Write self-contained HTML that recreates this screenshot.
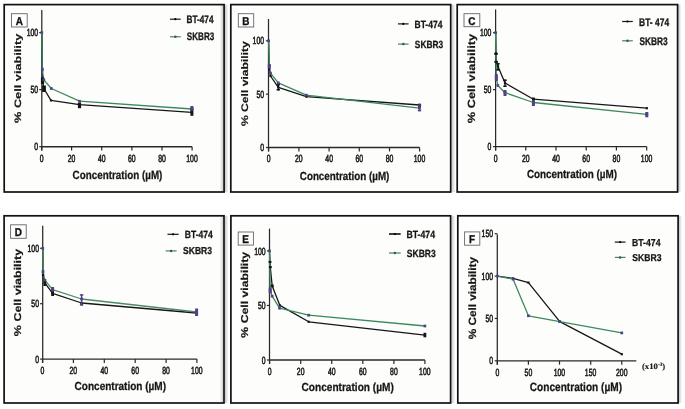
<!DOCTYPE html>
<html><head><meta charset="utf-8"><style>
html,body{margin:0;padding:0;background:#fff;}
svg{display:block;will-change:transform;}
text{text-rendering:geometricPrecision;}
</style></head><body>
<svg width="685" height="409" viewBox="0 0 685 409">
<defs><linearGradient id="shR" x1="0" x2="1" y1="0" y2="0"><stop offset="0" stop-color="#000" stop-opacity="0.22"/><stop offset="1" stop-color="#000" stop-opacity="0"/></linearGradient>
<linearGradient id="shL" x1="0" x2="1" y1="0" y2="0"><stop offset="0" stop-color="#000" stop-opacity="0"/><stop offset="1" stop-color="#000" stop-opacity="0.2"/></linearGradient></defs>
<rect x="0" y="0" width="685" height="409" fill="#ffffff"/>
<rect x="4.20" y="4.60" width="219.90" height="187.40" fill="#fdfdfb"/>
<rect x="230.80" y="4.60" width="219.90" height="187.40" fill="#fdfdfb"/>
<rect x="457.20" y="4.60" width="220.40" height="187.40" fill="#fdfdfb"/>
<rect x="4.10" y="215.80" width="219.90" height="187.20" fill="#fdfdfb"/>
<rect x="230.90" y="215.80" width="219.70" height="187.20" fill="#fdfdfb"/>
<rect x="457.80" y="215.80" width="220.30" height="187.20" fill="#fdfdfb"/>
<rect x="219.80" y="4.60" width="3.60" height="187.40" fill="url(#shL)"/>
<rect x="224.90" y="4.60" width="3.60" height="187.40" fill="url(#shR)"/>
<rect x="4.20" y="4.60" width="219.90" height="187.40" fill="none" stroke="#111" stroke-width="1.7"/>
<rect x="11.50" y="13.70" width="15.70" height="13.30" fill="#fefefe" stroke="#666" stroke-width="0.9"/>
<text transform="translate(15.77,24.70) scale(0.8800,1)" font-size="11.29" font-weight="bold" font-family="'Liberation Sans', sans-serif" fill="#111" stroke="#111" stroke-width="0.341">A</text>
<line x1="41.80" y1="10.00" x2="41.80" y2="150.60" stroke="#2a2a2a" stroke-width="1.25" />
<line x1="41.80" y1="146.70" x2="192.10" y2="146.70" stroke="#2a2a2a" stroke-width="1.35" />
<line x1="39.20" y1="146.70" x2="41.80" y2="146.70" stroke="#2a2a2a" stroke-width="1.2" />
<text transform="translate(34.34,150.30) scale(0.6650,1)" font-size="10.30" font-weight="normal" font-family="'Liberation Sans', sans-serif" fill="#1c1c1c" stroke="#1c1c1c" stroke-width="0.602">0</text>
<line x1="39.20" y1="89.65" x2="41.80" y2="89.65" stroke="#2a2a2a" stroke-width="1.2" />
<text transform="translate(30.53,93.25) scale(0.6650,1)" font-size="10.30" font-weight="normal" font-family="'Liberation Sans', sans-serif" fill="#1c1c1c" stroke="#1c1c1c" stroke-width="0.602">50</text>
<line x1="39.20" y1="32.60" x2="41.80" y2="32.60" stroke="#2a2a2a" stroke-width="1.2" />
<text transform="translate(26.72,36.20) scale(0.6650,1)" font-size="10.30" font-weight="normal" font-family="'Liberation Sans', sans-serif" fill="#1c1c1c" stroke="#1c1c1c" stroke-width="0.602">100</text>
<line x1="41.70" y1="146.70" x2="41.70" y2="150.60" stroke="#2a2a2a" stroke-width="1.2" />
<text transform="translate(39.82,161.61) scale(0.6650,1)" font-size="10.30" font-weight="normal" font-family="'Liberation Sans', sans-serif" fill="#1c1c1c" stroke="#1c1c1c" stroke-width="0.602">0</text>
<line x1="71.60" y1="146.70" x2="71.60" y2="150.60" stroke="#2a2a2a" stroke-width="1.2" />
<text transform="translate(67.74,161.61) scale(0.6650,1)" font-size="10.30" font-weight="normal" font-family="'Liberation Sans', sans-serif" fill="#1c1c1c" stroke="#1c1c1c" stroke-width="0.602">20</text>
<line x1="101.70" y1="146.70" x2="101.70" y2="150.60" stroke="#2a2a2a" stroke-width="1.2" />
<text transform="translate(97.95,161.61) scale(0.6650,1)" font-size="10.30" font-weight="normal" font-family="'Liberation Sans', sans-serif" fill="#1c1c1c" stroke="#1c1c1c" stroke-width="0.602">40</text>
<line x1="131.90" y1="146.70" x2="131.90" y2="150.60" stroke="#2a2a2a" stroke-width="1.2" />
<text transform="translate(128.04,161.61) scale(0.6650,1)" font-size="10.30" font-weight="normal" font-family="'Liberation Sans', sans-serif" fill="#1c1c1c" stroke="#1c1c1c" stroke-width="0.602">60</text>
<line x1="162.00" y1="146.70" x2="162.00" y2="150.60" stroke="#2a2a2a" stroke-width="1.2" />
<text transform="translate(158.18,161.61) scale(0.6650,1)" font-size="10.30" font-weight="normal" font-family="'Liberation Sans', sans-serif" fill="#1c1c1c" stroke="#1c1c1c" stroke-width="0.602">80</text>
<line x1="192.10" y1="146.70" x2="192.10" y2="150.60" stroke="#2a2a2a" stroke-width="1.2" />
<text transform="translate(186.27,161.61) scale(0.6650,1)" font-size="10.30" font-weight="normal" font-family="'Liberation Sans', sans-serif" fill="#1c1c1c" stroke="#1c1c1c" stroke-width="0.602">100</text>
<text transform="translate(20.60,122.95) rotate(-90) scale(1.3719,1)" font-size="9.29" font-weight="bold" font-family="'Liberation Sans', sans-serif" fill="#161616" stroke="#161616" stroke-width="0.160">% Cell viability</text>
<text transform="translate(72.61,178.70) scale(0.8287,1)" font-size="11.86" font-weight="bold" font-family="'Liberation Sans', sans-serif" fill="#161616" stroke="#161616" stroke-width="0.265">Concentration (µM)</text>
<line x1="170.00" y1="19.20" x2="180.70" y2="19.20" stroke="#161616" stroke-width="1.2" />
<circle cx="175.35" cy="19.20" r="1.1" fill="#000"/>
<text transform="translate(186.51,22.70) scale(0.7573,1)" font-size="10.86" font-weight="bold" font-family="'Liberation Sans', sans-serif" fill="#161616" stroke="#161616" stroke-width="0.291">BT-474</text>
<line x1="170.00" y1="36.75" x2="180.70" y2="36.75" stroke="#3b8a5e" stroke-width="1.2" />
<circle cx="175.35" cy="36.75" r="1.25" fill="#514287"/>
<text transform="translate(186.84,39.80) scale(0.7460,1)" font-size="10.86" font-weight="bold" font-family="'Liberation Sans', sans-serif" fill="#161616" stroke="#161616" stroke-width="0.295">SKBR3</text>
<polyline points="41.80,32.60 42.50,80.00 43.80,88.50 51.00,100.40 79.50,104.70 191.90,112.40" fill="none" stroke="#161616" stroke-width="1.3" stroke-linejoin="round" stroke-linecap="round"/>
<polyline points="41.80,32.60 42.30,69.50 43.80,79.80 51.30,88.50 79.50,101.20 191.90,109.00" fill="none" stroke="#3b8a5e" stroke-width="1.3" stroke-linejoin="round" stroke-linecap="round"/>
<rect x="40.90" y="77.50" width="3.2" height="6.50" fill="#161616"/>
<rect x="42.10" y="85.50" width="3.8" height="6.50" fill="#161616"/>
<rect x="77.90" y="102.50" width="3.2" height="5.70" fill="#161616"/>
<rect x="190.40" y="107.80" width="3.0" height="8.00" fill="#161616"/>
<rect x="41.40" y="78.90" width="2.2" height="2.2" fill="#161616"/>
<rect x="42.70" y="87.40" width="2.2" height="2.2" fill="#161616"/>
<rect x="49.90" y="99.30" width="2.2" height="2.2" fill="#161616"/>
<rect x="78.40" y="103.60" width="2.2" height="2.2" fill="#161616"/>
<rect x="190.80" y="111.30" width="2.2" height="2.2" fill="#161616"/>
<rect x="41.20" y="67.50" width="2.2" height="4.00" fill="#514287"/>
<rect x="190.40" y="106.00" width="3.0" height="4.50" fill="#514287"/>
<rect x="40.45" y="31.25" width="2.7" height="2.7" fill="#514287"/>
<rect x="40.95" y="68.15" width="2.7" height="2.7" fill="#514287"/>
<rect x="42.45" y="78.45" width="2.7" height="2.7" fill="#514287"/>
<rect x="49.95" y="87.15" width="2.7" height="2.7" fill="#514287"/>
<rect x="78.15" y="99.85" width="2.7" height="2.7" fill="#514287"/>
<rect x="190.55" y="107.65" width="2.7" height="2.7" fill="#514287"/>
<rect x="451.50" y="4.60" width="4.00" height="187.40" fill="url(#shR)"/>
<rect x="230.80" y="4.60" width="219.90" height="187.40" fill="none" stroke="#111" stroke-width="1.7"/>
<rect x="238.30" y="13.70" width="15.40" height="13.30" fill="#fefefe" stroke="#666" stroke-width="0.9"/>
<text transform="translate(242.33,24.70) scale(0.8800,1)" font-size="11.29" font-weight="bold" font-family="'Liberation Sans', sans-serif" fill="#111" stroke="#111" stroke-width="0.341">B</text>
<line x1="268.50" y1="19.00" x2="268.50" y2="151.40" stroke="#2a2a2a" stroke-width="1.25" />
<line x1="268.50" y1="147.50" x2="419.60" y2="147.50" stroke="#2a2a2a" stroke-width="1.35" />
<line x1="265.90" y1="147.50" x2="268.50" y2="147.50" stroke="#2a2a2a" stroke-width="1.2" />
<text transform="translate(260.24,151.10) scale(0.6650,1)" font-size="10.30" font-weight="normal" font-family="'Liberation Sans', sans-serif" fill="#1c1c1c" stroke="#1c1c1c" stroke-width="0.602">0</text>
<line x1="265.90" y1="94.15" x2="268.50" y2="94.15" stroke="#2a2a2a" stroke-width="1.2" />
<text transform="translate(256.43,97.76) scale(0.6650,1)" font-size="10.30" font-weight="normal" font-family="'Liberation Sans', sans-serif" fill="#1c1c1c" stroke="#1c1c1c" stroke-width="0.602">50</text>
<line x1="265.90" y1="40.80" x2="268.50" y2="40.80" stroke="#2a2a2a" stroke-width="1.2" />
<text transform="translate(252.62,44.41) scale(0.6650,1)" font-size="10.30" font-weight="normal" font-family="'Liberation Sans', sans-serif" fill="#1c1c1c" stroke="#1c1c1c" stroke-width="0.602">100</text>
<line x1="268.60" y1="147.50" x2="268.60" y2="151.40" stroke="#2a2a2a" stroke-width="1.2" />
<text transform="translate(266.72,162.41) scale(0.6650,1)" font-size="10.30" font-weight="normal" font-family="'Liberation Sans', sans-serif" fill="#1c1c1c" stroke="#1c1c1c" stroke-width="0.602">0</text>
<line x1="298.90" y1="147.50" x2="298.90" y2="151.40" stroke="#2a2a2a" stroke-width="1.2" />
<text transform="translate(295.04,162.41) scale(0.6650,1)" font-size="10.30" font-weight="normal" font-family="'Liberation Sans', sans-serif" fill="#1c1c1c" stroke="#1c1c1c" stroke-width="0.602">20</text>
<line x1="329.10" y1="147.50" x2="329.10" y2="151.40" stroke="#2a2a2a" stroke-width="1.2" />
<text transform="translate(325.35,162.41) scale(0.6650,1)" font-size="10.30" font-weight="normal" font-family="'Liberation Sans', sans-serif" fill="#1c1c1c" stroke="#1c1c1c" stroke-width="0.602">40</text>
<line x1="359.30" y1="147.50" x2="359.30" y2="151.40" stroke="#2a2a2a" stroke-width="1.2" />
<text transform="translate(355.44,162.41) scale(0.6650,1)" font-size="10.30" font-weight="normal" font-family="'Liberation Sans', sans-serif" fill="#1c1c1c" stroke="#1c1c1c" stroke-width="0.602">60</text>
<line x1="389.50" y1="147.50" x2="389.50" y2="151.40" stroke="#2a2a2a" stroke-width="1.2" />
<text transform="translate(385.68,162.41) scale(0.6650,1)" font-size="10.30" font-weight="normal" font-family="'Liberation Sans', sans-serif" fill="#1c1c1c" stroke="#1c1c1c" stroke-width="0.602">80</text>
<line x1="419.60" y1="147.50" x2="419.60" y2="151.40" stroke="#2a2a2a" stroke-width="1.2" />
<text transform="translate(413.77,162.41) scale(0.6650,1)" font-size="10.30" font-weight="normal" font-family="'Liberation Sans', sans-serif" fill="#1c1c1c" stroke="#1c1c1c" stroke-width="0.602">100</text>
<text transform="translate(247.50,126.04) rotate(-90) scale(1.2667,1)" font-size="9.57" font-weight="bold" font-family="'Liberation Sans', sans-serif" fill="#161616" stroke="#161616" stroke-width="0.174">% Cell viability</text>
<text transform="translate(299.81,179.60) scale(0.8378,1)" font-size="11.71" font-weight="bold" font-family="'Liberation Sans', sans-serif" fill="#161616" stroke="#161616" stroke-width="0.263">Concentration (µM)</text>
<line x1="398.00" y1="23.90" x2="408.60" y2="23.90" stroke="#161616" stroke-width="1.2" />
<circle cx="403.30" cy="23.90" r="1.1" fill="#000"/>
<text transform="translate(414.49,27.60) scale(0.8152,1)" font-size="10.43" font-weight="bold" font-family="'Liberation Sans', sans-serif" fill="#161616" stroke="#161616" stroke-width="0.270">BT-474</text>
<line x1="398.00" y1="44.10" x2="408.60" y2="44.10" stroke="#3b8a5e" stroke-width="1.2" />
<circle cx="403.30" cy="44.10" r="1.25" fill="#514287"/>
<text transform="translate(414.83,47.50) scale(0.7997,1)" font-size="10.43" font-weight="bold" font-family="'Liberation Sans', sans-serif" fill="#161616" stroke="#161616" stroke-width="0.275">SKBR3</text>
<polyline points="268.60,40.80 269.20,69.20 270.50,76.00 278.30,87.30 306.40,96.70 419.50,105.00" fill="none" stroke="#161616" stroke-width="1.3" stroke-linejoin="round" stroke-linecap="round"/>
<polyline points="268.60,40.80 269.30,66.30 270.50,73.10 278.30,82.90 306.40,95.20 419.50,108.10" fill="none" stroke="#3b8a5e" stroke-width="1.3" stroke-linejoin="round" stroke-linecap="round"/>
<rect x="277.60" y="84.00" width="1.4" height="6.50" fill="#161616"/>
<rect x="276.60" y="84.00" width="3.4" height="1.5" fill="#161616"/>
<rect x="276.60" y="89.00" width="3.4" height="1.5" fill="#161616"/>
<rect x="418.10" y="103.70" width="2.8" height="3.30" fill="#161616"/>
<rect x="268.10" y="68.10" width="2.2" height="2.2" fill="#161616"/>
<rect x="269.40" y="74.90" width="2.2" height="2.2" fill="#161616"/>
<rect x="277.20" y="86.20" width="2.2" height="2.2" fill="#161616"/>
<rect x="305.30" y="95.60" width="2.2" height="2.2" fill="#161616"/>
<rect x="418.40" y="103.90" width="2.2" height="2.2" fill="#161616"/>
<rect x="267.80" y="64.00" width="3.0" height="4.50" fill="#514287"/>
<rect x="418.80" y="104.50" width="1.4" height="6.80" fill="#514287"/>
<rect x="417.80" y="104.50" width="3.4" height="1.5" fill="#514287"/>
<rect x="417.80" y="109.80" width="3.4" height="1.5" fill="#514287"/>
<rect x="267.25" y="39.45" width="2.7" height="2.7" fill="#514287"/>
<rect x="267.95" y="64.95" width="2.7" height="2.7" fill="#514287"/>
<rect x="269.15" y="71.75" width="2.7" height="2.7" fill="#514287"/>
<rect x="276.95" y="81.55" width="2.7" height="2.7" fill="#514287"/>
<rect x="305.05" y="93.85" width="2.7" height="2.7" fill="#514287"/>
<rect x="418.15" y="106.75" width="2.7" height="2.7" fill="#514287"/>
<rect x="678.40" y="4.60" width="3.10" height="187.40" fill="url(#shR)"/>
<rect x="457.20" y="4.60" width="220.40" height="187.40" fill="none" stroke="#111" stroke-width="1.7"/>
<rect x="464.00" y="13.70" width="15.80" height="13.00" fill="#fefefe" stroke="#666" stroke-width="0.9"/>
<text transform="translate(468.23,24.55) scale(0.8800,1)" font-size="11.29" font-weight="bold" font-family="'Liberation Sans', sans-serif" fill="#111" stroke="#111" stroke-width="0.341">C</text>
<line x1="495.60" y1="9.40" x2="495.60" y2="150.50" stroke="#2a2a2a" stroke-width="1.25" />
<line x1="495.60" y1="146.60" x2="646.70" y2="146.60" stroke="#2a2a2a" stroke-width="1.35" />
<line x1="493.00" y1="146.60" x2="495.60" y2="146.60" stroke="#2a2a2a" stroke-width="1.2" />
<text transform="translate(487.54,150.20) scale(0.6650,1)" font-size="10.30" font-weight="normal" font-family="'Liberation Sans', sans-serif" fill="#1c1c1c" stroke="#1c1c1c" stroke-width="0.602">0</text>
<line x1="493.00" y1="89.65" x2="495.60" y2="89.65" stroke="#2a2a2a" stroke-width="1.2" />
<text transform="translate(483.73,93.25) scale(0.6650,1)" font-size="10.30" font-weight="normal" font-family="'Liberation Sans', sans-serif" fill="#1c1c1c" stroke="#1c1c1c" stroke-width="0.602">50</text>
<line x1="493.00" y1="32.70" x2="495.60" y2="32.70" stroke="#2a2a2a" stroke-width="1.2" />
<text transform="translate(479.92,36.30) scale(0.6650,1)" font-size="10.30" font-weight="normal" font-family="'Liberation Sans', sans-serif" fill="#1c1c1c" stroke="#1c1c1c" stroke-width="0.602">100</text>
<line x1="495.60" y1="146.60" x2="495.60" y2="150.50" stroke="#2a2a2a" stroke-width="1.2" />
<text transform="translate(493.72,161.51) scale(0.6650,1)" font-size="10.30" font-weight="normal" font-family="'Liberation Sans', sans-serif" fill="#1c1c1c" stroke="#1c1c1c" stroke-width="0.602">0</text>
<line x1="525.80" y1="146.60" x2="525.80" y2="150.50" stroke="#2a2a2a" stroke-width="1.2" />
<text transform="translate(521.94,161.51) scale(0.6650,1)" font-size="10.30" font-weight="normal" font-family="'Liberation Sans', sans-serif" fill="#1c1c1c" stroke="#1c1c1c" stroke-width="0.602">20</text>
<line x1="556.00" y1="146.60" x2="556.00" y2="150.50" stroke="#2a2a2a" stroke-width="1.2" />
<text transform="translate(552.25,161.51) scale(0.6650,1)" font-size="10.30" font-weight="normal" font-family="'Liberation Sans', sans-serif" fill="#1c1c1c" stroke="#1c1c1c" stroke-width="0.602">40</text>
<line x1="586.20" y1="146.60" x2="586.20" y2="150.50" stroke="#2a2a2a" stroke-width="1.2" />
<text transform="translate(582.34,161.51) scale(0.6650,1)" font-size="10.30" font-weight="normal" font-family="'Liberation Sans', sans-serif" fill="#1c1c1c" stroke="#1c1c1c" stroke-width="0.602">60</text>
<line x1="616.40" y1="146.60" x2="616.40" y2="150.50" stroke="#2a2a2a" stroke-width="1.2" />
<text transform="translate(612.58,161.51) scale(0.6650,1)" font-size="10.30" font-weight="normal" font-family="'Liberation Sans', sans-serif" fill="#1c1c1c" stroke="#1c1c1c" stroke-width="0.602">80</text>
<line x1="646.70" y1="146.60" x2="646.70" y2="150.50" stroke="#2a2a2a" stroke-width="1.2" />
<text transform="translate(640.87,161.51) scale(0.6650,1)" font-size="10.30" font-weight="normal" font-family="'Liberation Sans', sans-serif" fill="#1c1c1c" stroke="#1c1c1c" stroke-width="0.602">100</text>
<text transform="translate(474.50,123.15) rotate(-90) scale(1.2216,1)" font-size="10.43" font-weight="bold" font-family="'Liberation Sans', sans-serif" fill="#161616" stroke="#161616" stroke-width="0.180">% Cell viability</text>
<text transform="translate(526.91,178.40) scale(0.8425,1)" font-size="11.71" font-weight="bold" font-family="'Liberation Sans', sans-serif" fill="#161616" stroke="#161616" stroke-width="0.261">Concentration (µM)</text>
<line x1="622.10" y1="21.50" x2="632.80" y2="21.50" stroke="#161616" stroke-width="1.2" />
<circle cx="627.45" cy="21.50" r="1.1" fill="#000"/>
<text transform="translate(639.09,25.50) scale(0.7660,1)" font-size="11.00" font-weight="bold" font-family="'Liberation Sans', sans-serif" fill="#161616" stroke="#161616" stroke-width="0.287">BT- 474</text>
<line x1="622.10" y1="40.80" x2="632.80" y2="40.80" stroke="#3b8a5e" stroke-width="1.2" />
<circle cx="627.45" cy="40.80" r="1.25" fill="#514287"/>
<text transform="translate(639.43,44.70) scale(0.7554,1)" font-size="11.00" font-weight="bold" font-family="'Liberation Sans', sans-serif" fill="#161616" stroke="#161616" stroke-width="0.291">SKBR3</text>
<polyline points="495.60,32.70 496.00,53.70 496.20,61.80 498.00,66.50 505.00,83.00 533.40,99.20 646.80,108.20" fill="none" stroke="#161616" stroke-width="1.3" stroke-linejoin="round" stroke-linecap="round"/>
<polyline points="495.60,32.70 496.30,77.30 497.80,85.50 505.00,92.70 533.40,102.50 646.80,114.40" fill="none" stroke="#3b8a5e" stroke-width="1.3" stroke-linejoin="round" stroke-linecap="round"/>
<rect x="495.30" y="52.80" width="1.4" height="1.80" fill="#161616"/>
<rect x="494.30" y="52.80" width="3.4" height="1.5" fill="#161616"/>
<rect x="494.30" y="53.10" width="3.4" height="1.5" fill="#161616"/>
<rect x="495.50" y="61.00" width="1.4" height="1.60" fill="#161616"/>
<rect x="494.50" y="61.00" width="3.4" height="1.5" fill="#161616"/>
<rect x="494.50" y="61.10" width="3.4" height="1.5" fill="#161616"/>
<rect x="497.30" y="63.00" width="1.4" height="7.50" fill="#161616"/>
<rect x="496.30" y="63.00" width="3.4" height="1.5" fill="#161616"/>
<rect x="496.30" y="69.00" width="3.4" height="1.5" fill="#161616"/>
<rect x="504.30" y="79.50" width="1.4" height="7.50" fill="#161616"/>
<rect x="503.30" y="79.50" width="3.4" height="1.5" fill="#161616"/>
<rect x="503.30" y="85.50" width="3.4" height="1.5" fill="#161616"/>
<rect x="532.00" y="97.50" width="2.8" height="3.50" fill="#161616"/>
<rect x="494.90" y="52.60" width="2.2" height="2.2" fill="#161616"/>
<rect x="495.10" y="60.70" width="2.2" height="2.2" fill="#161616"/>
<rect x="496.90" y="65.40" width="2.2" height="2.2" fill="#161616"/>
<rect x="503.90" y="81.90" width="2.2" height="2.2" fill="#161616"/>
<rect x="532.30" y="98.10" width="2.2" height="2.2" fill="#161616"/>
<rect x="645.70" y="107.10" width="2.2" height="2.2" fill="#161616"/>
<rect x="494.80" y="74.00" width="3.0" height="7.00" fill="#514287"/>
<rect x="503.50" y="90.00" width="3.0" height="6.00" fill="#514287"/>
<rect x="531.90" y="100.00" width="3.0" height="6.00" fill="#514287"/>
<rect x="645.30" y="112.00" width="3.0" height="5.30" fill="#514287"/>
<rect x="494.25" y="31.35" width="2.7" height="2.7" fill="#514287"/>
<rect x="494.95" y="75.95" width="2.7" height="2.7" fill="#514287"/>
<rect x="496.45" y="84.15" width="2.7" height="2.7" fill="#514287"/>
<rect x="503.65" y="91.35" width="2.7" height="2.7" fill="#514287"/>
<rect x="532.05" y="101.15" width="2.7" height="2.7" fill="#514287"/>
<rect x="645.45" y="113.05" width="2.7" height="2.7" fill="#514287"/>
<rect x="219.80" y="215.80" width="3.60" height="187.20" fill="url(#shL)"/>
<rect x="224.90" y="215.80" width="3.60" height="187.20" fill="url(#shR)"/>
<rect x="4.10" y="215.80" width="219.90" height="187.20" fill="none" stroke="#111" stroke-width="1.7"/>
<rect x="10.60" y="224.80" width="15.60" height="13.50" fill="#fefefe" stroke="#666" stroke-width="0.9"/>
<text transform="translate(14.68,235.90) scale(0.8800,1)" font-size="11.29" font-weight="bold" font-family="'Liberation Sans', sans-serif" fill="#111" stroke="#111" stroke-width="0.341">D</text>
<line x1="42.70" y1="225.80" x2="42.70" y2="363.00" stroke="#2a2a2a" stroke-width="1.25" />
<line x1="42.70" y1="359.10" x2="196.90" y2="359.10" stroke="#2a2a2a" stroke-width="1.35" />
<line x1="40.10" y1="359.10" x2="42.70" y2="359.10" stroke="#2a2a2a" stroke-width="1.2" />
<text transform="translate(35.14,362.71) scale(0.6650,1)" font-size="10.30" font-weight="normal" font-family="'Liberation Sans', sans-serif" fill="#1c1c1c" stroke="#1c1c1c" stroke-width="0.602">0</text>
<line x1="40.10" y1="303.70" x2="42.70" y2="303.70" stroke="#2a2a2a" stroke-width="1.2" />
<text transform="translate(31.33,307.31) scale(0.6650,1)" font-size="10.30" font-weight="normal" font-family="'Liberation Sans', sans-serif" fill="#1c1c1c" stroke="#1c1c1c" stroke-width="0.602">50</text>
<line x1="40.10" y1="248.30" x2="42.70" y2="248.30" stroke="#2a2a2a" stroke-width="1.2" />
<text transform="translate(27.52,251.91) scale(0.6650,1)" font-size="10.30" font-weight="normal" font-family="'Liberation Sans', sans-serif" fill="#1c1c1c" stroke="#1c1c1c" stroke-width="0.602">100</text>
<line x1="42.50" y1="359.10" x2="42.50" y2="363.00" stroke="#2a2a2a" stroke-width="1.2" />
<text transform="translate(40.62,374.01) scale(0.6650,1)" font-size="10.30" font-weight="normal" font-family="'Liberation Sans', sans-serif" fill="#1c1c1c" stroke="#1c1c1c" stroke-width="0.602">0</text>
<line x1="73.40" y1="359.10" x2="73.40" y2="363.00" stroke="#2a2a2a" stroke-width="1.2" />
<text transform="translate(69.54,374.01) scale(0.6650,1)" font-size="10.30" font-weight="normal" font-family="'Liberation Sans', sans-serif" fill="#1c1c1c" stroke="#1c1c1c" stroke-width="0.602">20</text>
<line x1="104.30" y1="359.10" x2="104.30" y2="363.00" stroke="#2a2a2a" stroke-width="1.2" />
<text transform="translate(100.55,374.01) scale(0.6650,1)" font-size="10.30" font-weight="normal" font-family="'Liberation Sans', sans-serif" fill="#1c1c1c" stroke="#1c1c1c" stroke-width="0.602">40</text>
<line x1="135.20" y1="359.10" x2="135.20" y2="363.00" stroke="#2a2a2a" stroke-width="1.2" />
<text transform="translate(131.34,374.01) scale(0.6650,1)" font-size="10.30" font-weight="normal" font-family="'Liberation Sans', sans-serif" fill="#1c1c1c" stroke="#1c1c1c" stroke-width="0.602">60</text>
<line x1="166.10" y1="359.10" x2="166.10" y2="363.00" stroke="#2a2a2a" stroke-width="1.2" />
<text transform="translate(162.28,374.01) scale(0.6650,1)" font-size="10.30" font-weight="normal" font-family="'Liberation Sans', sans-serif" fill="#1c1c1c" stroke="#1c1c1c" stroke-width="0.602">80</text>
<line x1="196.90" y1="359.10" x2="196.90" y2="363.00" stroke="#2a2a2a" stroke-width="1.2" />
<text transform="translate(191.07,374.01) scale(0.6650,1)" font-size="10.30" font-weight="normal" font-family="'Liberation Sans', sans-serif" fill="#1c1c1c" stroke="#1c1c1c" stroke-width="0.602">100</text>
<text transform="translate(21.20,336.15) rotate(-90) scale(1.2662,1)" font-size="9.86" font-weight="bold" font-family="'Liberation Sans', sans-serif" fill="#161616" stroke="#161616" stroke-width="0.174">% Cell viability</text>
<text transform="translate(74.60,390.10) scale(0.8557,1)" font-size="11.71" font-weight="bold" font-family="'Liberation Sans', sans-serif" fill="#161616" stroke="#161616" stroke-width="0.257">Concentration (µM)</text>
<line x1="167.50" y1="234.30" x2="178.70" y2="234.30" stroke="#161616" stroke-width="1.2" />
<circle cx="173.10" cy="234.30" r="1.1" fill="#000"/>
<text transform="translate(184.68,237.70) scale(0.8241,1)" font-size="10.43" font-weight="bold" font-family="'Liberation Sans', sans-serif" fill="#161616" stroke="#161616" stroke-width="0.267">BT-474</text>
<line x1="165.60" y1="250.90" x2="176.60" y2="250.90" stroke="#3b8a5e" stroke-width="1.2" />
<circle cx="171.10" cy="250.90" r="1.25" fill="#514287"/>
<text transform="translate(183.03,254.20) scale(0.8429,1)" font-size="10.14" font-weight="bold" font-family="'Liberation Sans', sans-serif" fill="#161616" stroke="#161616" stroke-width="0.261">SKBR3</text>
<polyline points="42.80,248.30 43.00,275.00 44.80,282.80 52.60,293.40 81.60,303.00 196.60,313.00" fill="none" stroke="#161616" stroke-width="1.3" stroke-linejoin="round" stroke-linecap="round"/>
<polyline points="42.80,248.30 43.00,271.70 44.80,280.20 52.60,289.70 81.60,299.00 196.60,312.00" fill="none" stroke="#4a8a66" stroke-width="1.3" stroke-linejoin="round" stroke-linecap="round"/>
<rect x="43.40" y="279.50" width="2.8" height="6.50" fill="#161616"/>
<rect x="51.20" y="291.00" width="2.8" height="5.00" fill="#161616"/>
<rect x="80.20" y="303.40" width="2.8" height="2.20" fill="#161616"/>
<rect x="41.90" y="273.90" width="2.2" height="2.2" fill="#161616"/>
<rect x="43.70" y="281.70" width="2.2" height="2.2" fill="#161616"/>
<rect x="51.50" y="292.30" width="2.2" height="2.2" fill="#161616"/>
<rect x="80.50" y="301.90" width="2.2" height="2.2" fill="#161616"/>
<rect x="195.50" y="311.90" width="2.2" height="2.2" fill="#161616"/>
<rect x="41.90" y="270.00" width="2.2" height="4.00" fill="#514287"/>
<rect x="51.10" y="287.00" width="3.0" height="4.50" fill="#514287"/>
<rect x="80.90" y="294.20" width="1.4" height="10.80" fill="#514287"/>
<rect x="79.90" y="294.20" width="3.4" height="1.5" fill="#514287"/>
<rect x="79.90" y="303.50" width="3.4" height="1.5" fill="#514287"/>
<rect x="195.10" y="308.50" width="3.0" height="7.50" fill="#514287"/>
<rect x="41.45" y="246.95" width="2.7" height="2.7" fill="#514287"/>
<rect x="41.65" y="270.35" width="2.7" height="2.7" fill="#514287"/>
<rect x="43.45" y="278.85" width="2.7" height="2.7" fill="#514287"/>
<rect x="51.25" y="288.35" width="2.7" height="2.7" fill="#514287"/>
<rect x="80.25" y="297.65" width="2.7" height="2.7" fill="#514287"/>
<rect x="195.25" y="310.65" width="2.7" height="2.7" fill="#514287"/>
<rect x="451.40" y="215.80" width="4.00" height="187.20" fill="url(#shR)"/>
<rect x="230.90" y="215.80" width="219.70" height="187.20" fill="none" stroke="#111" stroke-width="1.7"/>
<rect x="238.20" y="232.00" width="15.20" height="13.10" fill="#fefefe" stroke="#666" stroke-width="0.9"/>
<text transform="translate(242.37,242.90) scale(0.8800,1)" font-size="11.29" font-weight="bold" font-family="'Liberation Sans', sans-serif" fill="#111" stroke="#111" stroke-width="0.341">E</text>
<line x1="269.50" y1="228.60" x2="269.50" y2="363.90" stroke="#2a2a2a" stroke-width="1.25" />
<line x1="269.50" y1="360.00" x2="424.90" y2="360.00" stroke="#2a2a2a" stroke-width="1.35" />
<line x1="266.90" y1="360.00" x2="269.50" y2="360.00" stroke="#2a2a2a" stroke-width="1.2" />
<text transform="translate(261.84,363.61) scale(0.6650,1)" font-size="10.30" font-weight="normal" font-family="'Liberation Sans', sans-serif" fill="#1c1c1c" stroke="#1c1c1c" stroke-width="0.602">0</text>
<line x1="266.90" y1="305.45" x2="269.50" y2="305.45" stroke="#2a2a2a" stroke-width="1.2" />
<text transform="translate(258.03,309.06) scale(0.6650,1)" font-size="10.30" font-weight="normal" font-family="'Liberation Sans', sans-serif" fill="#1c1c1c" stroke="#1c1c1c" stroke-width="0.602">50</text>
<line x1="266.90" y1="250.90" x2="269.50" y2="250.90" stroke="#2a2a2a" stroke-width="1.2" />
<text transform="translate(254.22,254.50) scale(0.6650,1)" font-size="10.30" font-weight="normal" font-family="'Liberation Sans', sans-serif" fill="#1c1c1c" stroke="#1c1c1c" stroke-width="0.602">100</text>
<line x1="269.60" y1="360.00" x2="269.60" y2="363.90" stroke="#2a2a2a" stroke-width="1.2" />
<text transform="translate(267.72,374.91) scale(0.6650,1)" font-size="10.30" font-weight="normal" font-family="'Liberation Sans', sans-serif" fill="#1c1c1c" stroke="#1c1c1c" stroke-width="0.602">0</text>
<line x1="300.70" y1="360.00" x2="300.70" y2="363.90" stroke="#2a2a2a" stroke-width="1.2" />
<text transform="translate(296.84,374.91) scale(0.6650,1)" font-size="10.30" font-weight="normal" font-family="'Liberation Sans', sans-serif" fill="#1c1c1c" stroke="#1c1c1c" stroke-width="0.602">20</text>
<line x1="331.70" y1="360.00" x2="331.70" y2="363.90" stroke="#2a2a2a" stroke-width="1.2" />
<text transform="translate(327.95,374.91) scale(0.6650,1)" font-size="10.30" font-weight="normal" font-family="'Liberation Sans', sans-serif" fill="#1c1c1c" stroke="#1c1c1c" stroke-width="0.602">40</text>
<line x1="362.80" y1="360.00" x2="362.80" y2="363.90" stroke="#2a2a2a" stroke-width="1.2" />
<text transform="translate(358.94,374.91) scale(0.6650,1)" font-size="10.30" font-weight="normal" font-family="'Liberation Sans', sans-serif" fill="#1c1c1c" stroke="#1c1c1c" stroke-width="0.602">60</text>
<line x1="393.90" y1="360.00" x2="393.90" y2="363.90" stroke="#2a2a2a" stroke-width="1.2" />
<text transform="translate(390.08,374.91) scale(0.6650,1)" font-size="10.30" font-weight="normal" font-family="'Liberation Sans', sans-serif" fill="#1c1c1c" stroke="#1c1c1c" stroke-width="0.602">80</text>
<line x1="424.90" y1="360.00" x2="424.90" y2="363.90" stroke="#2a2a2a" stroke-width="1.2" />
<text transform="translate(419.07,374.91) scale(0.6650,1)" font-size="10.30" font-weight="normal" font-family="'Liberation Sans', sans-serif" fill="#1c1c1c" stroke="#1c1c1c" stroke-width="0.602">100</text>
<text transform="translate(248.00,337.65) rotate(-90) scale(1.2253,1)" font-size="10.00" font-weight="bold" font-family="'Liberation Sans', sans-serif" fill="#161616" stroke="#161616" stroke-width="0.180">% Cell viability</text>
<text transform="translate(301.50,390.50) scale(0.8633,1)" font-size="11.71" font-weight="bold" font-family="'Liberation Sans', sans-serif" fill="#161616" stroke="#161616" stroke-width="0.255">Concentration (µM)</text>
<line x1="389.00" y1="234.00" x2="400.70" y2="234.00" stroke="#2a2a2a" stroke-width="1.8" />
<circle cx="394.85" cy="234.00" r="1.1" fill="#000"/>
<text transform="translate(406.48,237.70) scale(0.8360,1)" font-size="10.43" font-weight="bold" font-family="'Liberation Sans', sans-serif" fill="#161616" stroke="#161616" stroke-width="0.263">BT-474</text>
<line x1="389.00" y1="253.00" x2="400.70" y2="253.00" stroke="#3b8a5e" stroke-width="1.2" />
<circle cx="394.85" cy="253.00" r="1.25" fill="#514287"/>
<text transform="translate(406.83,256.60) scale(0.8198,1)" font-size="10.43" font-weight="bold" font-family="'Liberation Sans', sans-serif" fill="#161616" stroke="#161616" stroke-width="0.268">SKBR3</text>
<polyline points="269.50,250.90 270.00,262.00 270.30,267.20 272.20,286.00 279.90,305.40 308.70,321.80 424.90,335.10" fill="none" stroke="#161616" stroke-width="1.3" stroke-linejoin="round" stroke-linecap="round"/>
<polyline points="269.50,250.90 270.20,290.20 272.20,296.20 279.50,308.20 308.70,315.20 424.90,326.00" fill="none" stroke="#3b8a5e" stroke-width="1.3" stroke-linejoin="round" stroke-linecap="round"/>
<rect x="423.50" y="332.80" width="2.8" height="4.50" fill="#161616"/>
<rect x="268.60" y="261.00" width="2.8" height="1.80" fill="#161616"/>
<rect x="268.90" y="266.20" width="2.8" height="1.80" fill="#161616"/>
<rect x="270.80" y="284.50" width="2.8" height="3.00" fill="#161616"/>
<rect x="268.90" y="260.90" width="2.2" height="2.2" fill="#161616"/>
<rect x="269.20" y="266.10" width="2.2" height="2.2" fill="#161616"/>
<rect x="271.10" y="284.90" width="2.2" height="2.2" fill="#161616"/>
<rect x="278.80" y="304.30" width="2.2" height="2.2" fill="#161616"/>
<rect x="307.60" y="320.70" width="2.2" height="2.2" fill="#161616"/>
<rect x="423.80" y="334.00" width="2.2" height="2.2" fill="#161616"/>
<rect x="268.70" y="287.50" width="3.0" height="6.00" fill="#514287"/>
<rect x="268.15" y="249.55" width="2.7" height="2.7" fill="#514287"/>
<rect x="268.85" y="288.85" width="2.7" height="2.7" fill="#514287"/>
<rect x="270.85" y="294.85" width="2.7" height="2.7" fill="#514287"/>
<rect x="278.15" y="306.85" width="2.7" height="2.7" fill="#514287"/>
<rect x="307.35" y="313.85" width="2.7" height="2.7" fill="#514287"/>
<rect x="423.55" y="324.65" width="2.7" height="2.7" fill="#514287"/>
<rect x="678.90" y="215.80" width="3.10" height="187.20" fill="url(#shR)"/>
<rect x="457.80" y="215.80" width="220.30" height="187.20" fill="none" stroke="#111" stroke-width="1.7"/>
<rect x="464.60" y="231.90" width="15.20" height="13.30" fill="#fefefe" stroke="#666" stroke-width="0.9"/>
<text transform="translate(469.02,242.90) scale(0.8800,1)" font-size="11.29" font-weight="bold" font-family="'Liberation Sans', sans-serif" fill="#111" stroke="#111" stroke-width="0.341">F</text>
<line x1="497.30" y1="234.30" x2="497.30" y2="364.70" stroke="#2a2a2a" stroke-width="1.25" />
<line x1="497.30" y1="360.80" x2="636.30" y2="360.80" stroke="#2a2a2a" stroke-width="1.35" />
<line x1="494.70" y1="360.80" x2="497.30" y2="360.80" stroke="#2a2a2a" stroke-width="1.2" />
<text transform="translate(489.24,364.41) scale(0.6650,1)" font-size="10.30" font-weight="normal" font-family="'Liberation Sans', sans-serif" fill="#1c1c1c" stroke="#1c1c1c" stroke-width="0.602">0</text>
<line x1="494.70" y1="318.45" x2="497.30" y2="318.45" stroke="#2a2a2a" stroke-width="1.2" />
<text transform="translate(485.43,322.06) scale(0.6650,1)" font-size="10.30" font-weight="normal" font-family="'Liberation Sans', sans-serif" fill="#1c1c1c" stroke="#1c1c1c" stroke-width="0.602">50</text>
<line x1="494.70" y1="276.10" x2="497.30" y2="276.10" stroke="#2a2a2a" stroke-width="1.2" />
<text transform="translate(481.62,279.71) scale(0.6650,1)" font-size="10.30" font-weight="normal" font-family="'Liberation Sans', sans-serif" fill="#1c1c1c" stroke="#1c1c1c" stroke-width="0.602">100</text>
<line x1="494.70" y1="233.75" x2="497.30" y2="233.75" stroke="#2a2a2a" stroke-width="1.2" />
<text transform="translate(481.62,237.36) scale(0.6650,1)" font-size="10.30" font-weight="normal" font-family="'Liberation Sans', sans-serif" fill="#1c1c1c" stroke="#1c1c1c" stroke-width="0.602">150</text>
<line x1="497.30" y1="360.80" x2="497.30" y2="364.70" stroke="#2a2a2a" stroke-width="1.2" />
<text transform="translate(495.42,375.71) scale(0.6650,1)" font-size="10.30" font-weight="normal" font-family="'Liberation Sans', sans-serif" fill="#1c1c1c" stroke="#1c1c1c" stroke-width="0.602">0</text>
<line x1="528.40" y1="360.80" x2="528.40" y2="364.70" stroke="#2a2a2a" stroke-width="1.2" />
<text transform="translate(524.58,375.71) scale(0.6650,1)" font-size="10.30" font-weight="normal" font-family="'Liberation Sans', sans-serif" fill="#1c1c1c" stroke="#1c1c1c" stroke-width="0.602">50</text>
<line x1="559.50" y1="360.80" x2="559.50" y2="364.70" stroke="#2a2a2a" stroke-width="1.2" />
<text transform="translate(553.67,375.71) scale(0.6650,1)" font-size="10.30" font-weight="normal" font-family="'Liberation Sans', sans-serif" fill="#1c1c1c" stroke="#1c1c1c" stroke-width="0.602">100</text>
<line x1="590.70" y1="360.80" x2="590.70" y2="364.70" stroke="#2a2a2a" stroke-width="1.2" />
<text transform="translate(584.87,375.71) scale(0.6650,1)" font-size="10.30" font-weight="normal" font-family="'Liberation Sans', sans-serif" fill="#1c1c1c" stroke="#1c1c1c" stroke-width="0.602">150</text>
<line x1="621.80" y1="360.80" x2="621.80" y2="364.70" stroke="#2a2a2a" stroke-width="1.2" />
<text transform="translate(616.04,375.71) scale(0.6650,1)" font-size="10.30" font-weight="normal" font-family="'Liberation Sans', sans-serif" fill="#1c1c1c" stroke="#1c1c1c" stroke-width="0.602">200</text>
<text transform="translate(475.60,339.34) rotate(-90) scale(1.1143,1)" font-size="10.57" font-weight="bold" font-family="'Liberation Sans', sans-serif" fill="#161616" stroke="#161616" stroke-width="0.197">% Cell viability</text>
<text transform="translate(529.80,391.00) scale(0.8418,1)" font-size="12.00" font-weight="bold" font-family="'Liberation Sans', sans-serif" fill="#161616" stroke="#161616" stroke-width="0.261">Concentration (µM)</text>
<line x1="614.80" y1="242.10" x2="625.50" y2="242.10" stroke="#161616" stroke-width="1.2" />
<circle cx="620.15" cy="242.10" r="1.1" fill="#000"/>
<text transform="translate(631.98,245.50) scale(0.8595,1)" font-size="10.14" font-weight="bold" font-family="'Liberation Sans', sans-serif" fill="#161616" stroke="#161616" stroke-width="0.256">BT-474</text>
<line x1="614.80" y1="257.40" x2="625.50" y2="257.40" stroke="#3b8a5e" stroke-width="1.2" />
<circle cx="620.15" cy="257.40" r="1.25" fill="#514287"/>
<text transform="translate(632.33,260.70) scale(0.8610,1)" font-size="10.00" font-weight="bold" font-family="'Liberation Sans', sans-serif" fill="#161616" stroke="#161616" stroke-width="0.256">SKBR3</text>
<polyline points="497.30,276.10 513.10,278.40 528.40,282.60 559.80,321.70 621.80,354.20" fill="none" stroke="#161616" stroke-width="1.3" stroke-linejoin="round" stroke-linecap="round"/>
<polyline points="497.30,276.10 513.10,279.20 528.40,315.80 559.80,321.70 621.80,332.90" fill="none" stroke="#3b8a5e" stroke-width="1.3" stroke-linejoin="round" stroke-linecap="round"/>
<rect x="512.00" y="277.30" width="2.2" height="2.2" fill="#161616"/>
<rect x="527.30" y="281.50" width="2.2" height="2.2" fill="#161616"/>
<rect x="558.70" y="320.60" width="2.2" height="2.2" fill="#161616"/>
<rect x="620.70" y="353.10" width="2.2" height="2.2" fill="#161616"/>
<rect x="495.95" y="274.75" width="2.7" height="2.7" fill="#514287"/>
<rect x="511.75" y="277.85" width="2.7" height="2.7" fill="#514287"/>
<rect x="527.05" y="314.45" width="2.7" height="2.7" fill="#514287"/>
<rect x="558.45" y="320.35" width="2.7" height="2.7" fill="#514287"/>
<rect x="620.45" y="331.55" width="2.7" height="2.7" fill="#514287"/>
<text x="641.9" y="369.4" font-family="'Liberation Serif', serif" font-weight="bold" font-size="8.2" fill="#1e1e1e" stroke="#1e1e1e" stroke-width="0.15" textLength="23.4" lengthAdjust="spacingAndGlyphs">(x10<tspan font-size="5" dy="-3">-3</tspan><tspan dy="3">)</tspan></text>
</svg>
</body></html>
